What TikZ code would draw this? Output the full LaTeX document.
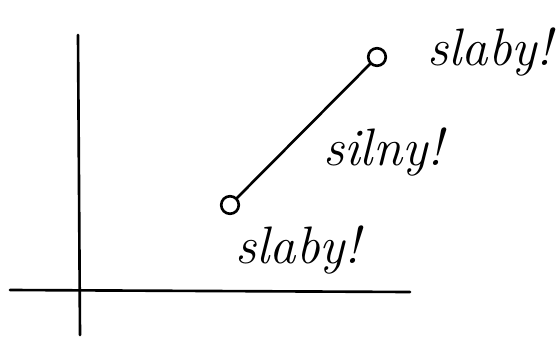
\documentclass[tikz,border=0pt]{standalone}
\usepackage{tikz}
\usetikzlibrary{positioning}

\begin{document}
\begin{tikzpicture}[x=0.02cm, y=-0.02cm, line width=1.5pt, line cap=round,
  end/.style={circle, draw, fill=white, minimum size=10pt, inner sep=0pt},
  label/.style={font=\fontsize{30}{34}\selectfont\itshape}]
  \useasboundingbox (0,0) rectangle (557,338);

  % axes
  \coordinate (ytop) at (78,35);
  \coordinate (ybot) at (80,335);
  \coordinate (xleft) at (10,290);
  \coordinate (xright) at (410,292);
  \draw (ytop) -- (ybot);
  \draw (xleft) -- (xright);

  % segment
  \node[end] (P) at (230,205) {};
  \node[end] (Q) at (377,57) {};
  \draw (P) -- (Q);

  \node[label] (top) at (490,52) {slaby!};
  \node[label] (mid) at (383,152) {silny!};
  \node[label] (bot) at (298,250) {slaby!};
\end{tikzpicture}
\end{document}
